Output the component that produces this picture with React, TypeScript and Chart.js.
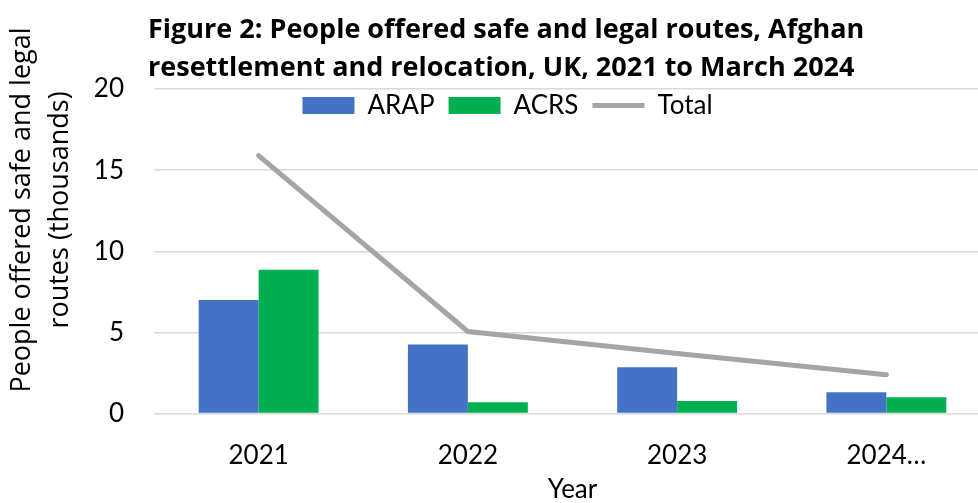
import React, { useEffect, useRef } from "react";
import { Chart, registerables } from "chart.js";

Chart.register(...registerables);

const categories = ["2021", "2022", "2023", "2024…"];
const arapValues = [7.0, 4.26, 2.85, 1.31];
const acrsValues = [8.86, 0.7, 0.78, 1.0];
const totalValues = [15.9, 5.06, 3.7, 2.4];
const yTicks = [0, 5, 10, 15, 20];
const seriesNames = ["ARAP", "ACRS", "Total"];
const titleLines = [
  "Figure 2: People offered safe and legal routes, Afghan",
  "resettlement and relocation, UK, 2021 to March 2024",
];
const yTitleLines = ["People offered safe and legal", "routes (thousands)"];
const xTitle = "Year";

const FONT = "Lato, 'Open Sans', sans-serif";
const FONT_WIDE = "'Open Sans', Lato, sans-serif";

const layoutPatch = {
  id: "layoutPatch",
  beforeLayout(chart: any) {
    const lg = chart.legend;
    if (lg && !lg.__patched) {
      const orig = lg.fit.bind(lg);
      lg.fit = function () {
        orig();
        this.height = 0;
      };
      lg.__patched = true;
    }
  },
  afterLayout(chart: any) {
    const t = chart.titleBlock;
    if (t) t.left = 148;
    const lg = chart.legend;
    if (lg) {
      lg.top = 105.5 - 14 - 13;
      lg.bottom = lg.top + 50;
      lg.left += 12;
      lg.right += 12;
    }
    (chart.boxes || []).forEach((b: any) => {
      if (b !== t && b.options && b.options.position === "left" && b.options.text) {
        const half = (b.bottom - b.top) / 2;
        b.top = 210 - half;
        b.bottom = 210 + half;
      }
    });
  },
};

export default function App() {
  const ref = useRef<HTMLCanvasElement | null>(null);

  useEffect(() => {
    if (!ref.current) return;
    const chart = new Chart(ref.current, {
      type: "bar",
      data: {
        labels: categories,
        datasets: [
          {
            type: "bar",
            label: seriesNames[0],
            data: arapValues,
            backgroundColor: "#4472C4",
            borderWidth: 0,
            barPercentage: 1,
            categoryPercentage: 0.573,
          },
          {
            type: "bar",
            label: seriesNames[1],
            data: acrsValues,
            backgroundColor: "#00B050",
            borderWidth: 0,
            barPercentage: 1,
            categoryPercentage: 0.573,
          },
          {
            type: "line",
            label: seriesNames[2],
            data: totalValues,
            borderColor: "#A5A5A5",
            backgroundColor: "#A5A5A5",
            borderWidth: 5,
            pointRadius: 0,
            pointStyle: "line",
            borderCapStyle: "round",
            borderJoinStyle: "round",
            tension: 0,
            fill: false,
          } as any,
        ],
      },
      options: {
        responsive: false,
        animation: false,
        devicePixelRatio: 1,
        layout: { padding: { left: 0, right: 9, top: 0, bottom: 0 } },
        plugins: {
          title: {
            display: true,
            text: titleLines,
            align: "start",
            color: "#000",
            font: { family: FONT_WIDE, size: 27, weight: "bold", lineHeight: 38 / 27 },
            padding: { top: 11, bottom: 2 },
          },
          subtitle: {
            display: true,
            position: "left",
            text: yTitleLines,
            align: "center",
            color: "#000",
            font: { family: FONT_WIDE, size: 27, weight: "normal", lineHeight: 38 / 27 },
            padding: { top: 3, bottom: 15 },
          },
          legend: {
            display: true,
            position: "top",
            align: "center",
            labels: {
              color: "#000",
              font: { family: FONT, size: 26 },
              usePointStyle: true,
              pointStyleWidth: 52,
              boxHeight: 17,
              padding: 14,
              generateLabels: (c: any) =>
                Chart.defaults.plugins.legend.labels
                  .generateLabels(c)
                  .map((it: any, i: number) => ({
                    ...it,
                    pointStyle: i === 2 ? "line" : "rect",
                    lineWidth: i === 2 ? 5 : 0,
                  })),
            },
          },
          tooltip: { enabled: false },
        },
        scales: {
          x: {
            grid: { display: false, drawTicks: false },
            border: { display: false },
            ticks: {
              padding: 26,
              color: "#000",
              font: { family: FONT, size: 26 },
              maxRotation: 0,
              autoSkip: false,
            },
            title: {
              display: true,
              text: xTitle,
              color: "#000",
              font: { family: FONT, size: 26 },
              padding: { top: -23, bottom: 1 },
            },
          },
          y: {
            min: yTicks[0],
            max: yTicks[yTicks.length - 1],
            ticks: {
              stepSize: yTicks[1] - yTicks[0],
              padding: 30,
              color: "#000",
              font: { family: FONT, size: 26 },
            },
            grid: { color: "#D9D9D9", lineWidth: 1.5, drawTicks: false },
            border: { display: false },
            afterFit: (s: any) => {
              s.width = 60;
            },
          },
        },
      },
      plugins: [layoutPatch],
    } as any);
    return () => chart.destroy();
  }, []);

  return (
    <div
      style={{
        position: "fixed",
        left: 0,
        top: 0,
        width: 978,
        height: 503,
        overflow: "hidden",
        background: "#fff",
      }}
    >
      <canvas ref={ref} width={1000} height={506} style={{ width: 1000, height: 506, display: "block" }} />
    </div>
  );
}
